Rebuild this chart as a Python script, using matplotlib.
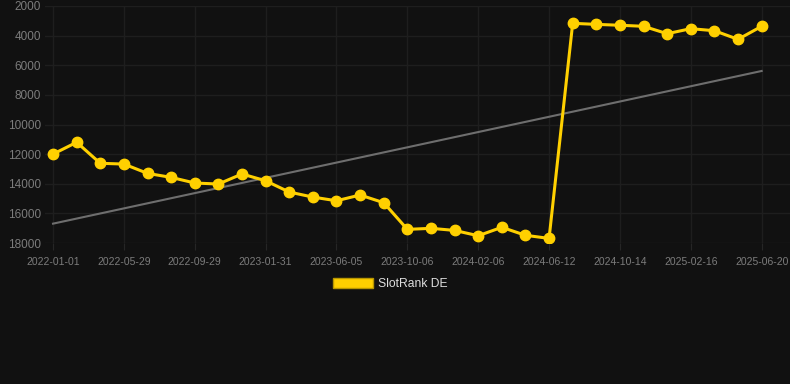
import numpy as np
import matplotlib
matplotlib.use("Agg")
import matplotlib.pyplot as plt
from matplotlib.patches import Patch

# rank values, one per period (lower rank number = better, axis inverted)
ranks = [12000, 11200, 12620, 12670, 13300, 13570, 13950, 14020, 13340, 13800,
         14560, 14900, 15150, 14760, 15280, 17080, 17010, 17150, 17510, 16940,
         17480, 17690, 3170, 3240, 3300, 3370, 3870, 3530, 3670, 4250, 3370]
tick_labels = ["2022-01-01", "2022-05-29", "2022-09-29", "2023-01-31", "2023-06-05",
               "2023-10-06", "2024-02-06", "2024-06-12", "2024-10-14", "2025-02-16",
               "2025-06-20"]
y_ticks = [2000, 4000, 6000, 8000, 10000, 12000, 14000, 16000, 18000]
series_name = "SlotRank DE"

bg = "#111111"
gold = "#ffd000"

x = np.arange(len(ranks))
# linear trend through the series
k, b = np.polyfit(x, ranks, 1)
trend = k * x + b

fig = plt.figure(figsize=(7.9, 3.84), dpi=100, facecolor=bg)
plt.rcParams["font.family"] = ["Liberation Sans", "DejaVu Sans"]
ax = fig.add_axes([45 / 790, 1 - 243 / 384, 1 - 45 / 790, 237 / 384])
ax.set_facecolor(bg)

ax.plot([x[0], x[-1]], [trend[0], trend[-1]], color="#6e6e6e", lw=1.5, zorder=2)
ax.plot(x, ranks, color=gold, lw=2.2, marker="o", markersize=7.5, zorder=3)

ax.set_ylim(18000, 2000)
ax.set_xlim(-0.34, 31.2)
ax.set_yticks(y_ticks)
ax.set_xticks(x[::3])
ax.set_xticklabels(tick_labels)

ax.grid(True, color="#1e1e1e", lw=1)
ax.set_axisbelow(True)
for s in ax.spines.values():
    s.set_visible(False)
ax.tick_params(axis="x", colors="#262626", labelcolor="#7c7c7c", labelsize=7.5,
               length=5, pad=5)
ax.tick_params(axis="y", length=0, labelcolor="#7c7c7c", labelsize=8.5, pad=3)

fig.legend(handles=[Patch(facecolor=gold, edgecolor="#b89600", label=series_name)],
           loc="center", bbox_to_anchor=(0.494, 0.26), frameon=False,
           fontsize=8.7, labelcolor="#dddddd", handlelength=3.3, handleheight=0.9,
           handletextpad=0.45)

fig.savefig("out.png", dpi=100, facecolor=bg)
